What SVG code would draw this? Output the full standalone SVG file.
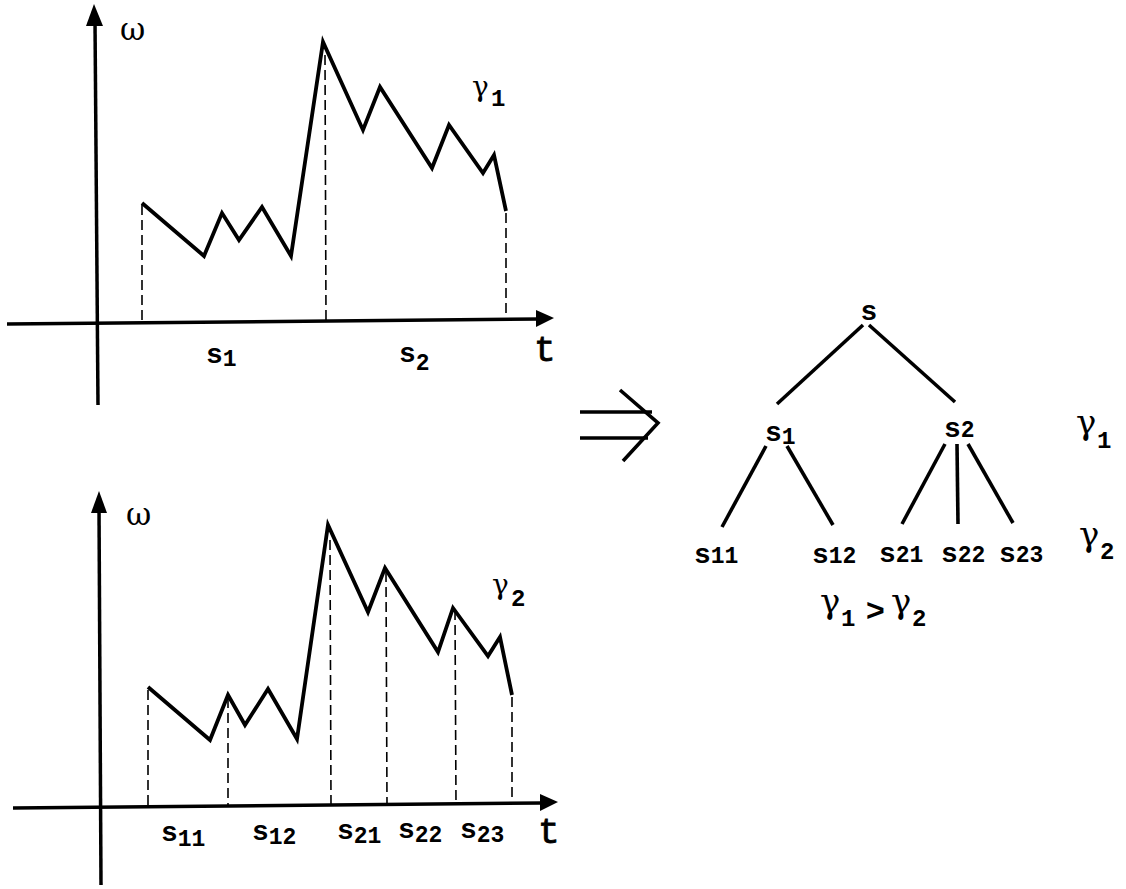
<svg xmlns="http://www.w3.org/2000/svg" width="1126" height="889" viewBox="0 0 1126 889">
<style>
.ax{stroke:#000;stroke-width:3.5;fill:none}
.cv{stroke:#000;stroke-width:3.8;fill:none;stroke-linejoin:miter;stroke-miterlimit:10}
.ds{stroke:#000;stroke-width:1.6;fill:none;stroke-dasharray:10,5}
.tr{stroke:#000;stroke-width:3.6;fill:none}
.hd{fill:#000;stroke:none}
.s{font-family:"Liberation Mono","Courier New",monospace;font-weight:bold;font-size:28px;fill:#000}
.d{font-family:"Liberation Mono","Courier New",monospace;font-weight:bold;font-size:23px;fill:#000}
.g{font-family:"DejaVu Serif",serif;font-size:28px;fill:#000}
.w{font-family:"DejaVu Serif",serif;font-size:31px;fill:#000}
.gt{font-family:"DejaVu Serif",serif;font-size:34px;fill:#000}
.gs{font-family:"Liberation Mono",monospace;font-weight:bold;font-size:24px;fill:#000}
.t{font-family:"Liberation Mono","Courier New",monospace;font-size:36px;fill:#000;stroke:#000;stroke-width:0.8}
</style>
<rect width="1126" height="889" fill="#fff"/>

<g id="graph-top">
  <line class="ax" x1="95" y1="22" x2="98" y2="405"/>
  <polygon class="hd" points="94,4 86,26 103,26"/>
  <line class="ax" x1="7" y1="324" x2="540" y2="319"/>
  <polygon class="hd" points="554,318 536,310 536,327"/>
  <polyline class="cv" points="142,203 204,256 222,213 239,240 262,207 291,256 323,42 363,130 380,87 432,168 449,125 483,173 494,155 506,211"/>
  <line class="ds" x1="142" y1="205" x2="142" y2="322"/>
  <line class="ds" x1="325" y1="55" x2="326" y2="320"/>
  <line class="ds" x1="506" y1="213" x2="506" y2="317"/>
  <text class="w" x="120" y="40">ω</text>
  <text class="g" x="472" y="96">γ<tspan class="gs" x="491" y="106">1</tspan></text>
  <text class="s" x="206" y="363">s<tspan class="d" y="366">1</tspan></text>
  <text class="s" x="399" y="362">s<tspan class="d" y="370">2</tspan></text>
  <text class="t" x="534" y="361">t</text>
</g>

<g id="graph-bottom">
  <line class="ax" x1="99" y1="508" x2="101" y2="885"/>
  <polygon class="hd" points="99,491 91,513 107,513"/>
  <line class="ax" x1="13" y1="808" x2="542" y2="803"/>
  <polygon class="hd" points="558,802 540,794 540,811"/>
  <polyline class="cv" points="148,687 210,740 228,695 245,725 268,689 297,739 328,525 368,612 385,568 438,652 453,608 488,656 500,637 512,695"/>
  <line class="ds" x1="148" y1="690" x2="148" y2="806"/>
  <line class="ds" x1="228" y1="698" x2="228" y2="806"/>
  <line class="ds" x1="330" y1="540" x2="331" y2="805"/>
  <line class="ds" x1="386" y1="572" x2="387" y2="805"/>
  <line class="ds" x1="455" y1="610" x2="456" y2="804"/>
  <line class="ds" x1="512" y1="697" x2="512" y2="803"/>
  <text class="w" x="126" y="525">ω</text>
  <text class="g" x="492" y="594">γ<tspan class="gs" x="511" y="606">2</tspan></text>
  <text class="s" x="161" y="841">s<tspan class="d" y="846">11</tspan></text>
  <text class="s" x="252" y="840">s<tspan class="d" y="844">12</tspan></text>
  <text class="s" x="337" y="839">s<tspan class="d" y="843">21</tspan></text>
  <text class="s" x="398" y="838">s<tspan class="d" y="842">22</tspan></text>
  <text class="s" x="460" y="838">s<tspan class="d" y="842">23</tspan></text>
  <text class="t" x="538" y="843">t</text>
</g>

<g id="implies">
  <line class="tr" x1="580" y1="412" x2="652" y2="412"/>
  <line class="tr" x1="580" y1="438" x2="648" y2="438"/>
  <polyline class="tr" points="620,390 658,423 623,461"/>
</g>

<g id="node-s"><text class="s" x="869" y="320" text-anchor="middle" font-size="25">s</text></g>
<g id="node-s1"><text class="s" x="765" y="441">s<tspan class="d" y="444">1</tspan></text></g>
<g id="node-s2"><text class="s" x="944" y="437">s<tspan class="d">2</tspan></text></g>
<g id="node-s11"><text class="s" x="694" y="563">s<tspan class="d">11</tspan></text></g>
<g id="node-s12"><text class="s" x="812" y="563">s<tspan class="d">12</tspan></text></g>
<g id="node-s21"><text class="s" x="879" y="562">s<tspan class="d">21</tspan></text></g>
<g id="node-s22"><text class="s" x="941" y="562">s<tspan class="d">22</tspan></text></g>
<g id="node-s23"><text class="s" x="999" y="562">s<tspan class="d">23</tspan></text></g>

<g id="connectors">
  <line class="tr" x1="863" y1="325" x2="777" y2="404"/>
  <line class="tr" x1="869" y1="325" x2="955" y2="402"/>
  <line class="tr" x1="766" y1="446" x2="722" y2="527"/>
  <line class="tr" x1="787" y1="446" x2="833" y2="525"/>
  <line class="tr" x1="945" y1="444" x2="902" y2="524"/>
  <line class="tr" x1="957" y1="444" x2="958" y2="524"/>
  <line class="tr" x1="968" y1="444" x2="1013" y2="523"/>
</g>

<g id="labels">
  <text class="gt" x="1076" y="434">γ<tspan class="gs" x="1097" y="448">1</tspan></text>
  <text class="gt" x="1079" y="546">γ<tspan class="gs" x="1100" y="559">2</tspan></text>
  <text class="gt" x="820" y="613">γ<tspan class="gs" x="841" y="626">1</tspan><tspan x="866" y="621" font-size="32" font-family="Liberation Sans, sans-serif" font-weight="bold">&gt;</tspan><tspan x="891" y="613">γ</tspan><tspan class="gs" x="912" y="626">2</tspan></text>
</g>
</svg>
